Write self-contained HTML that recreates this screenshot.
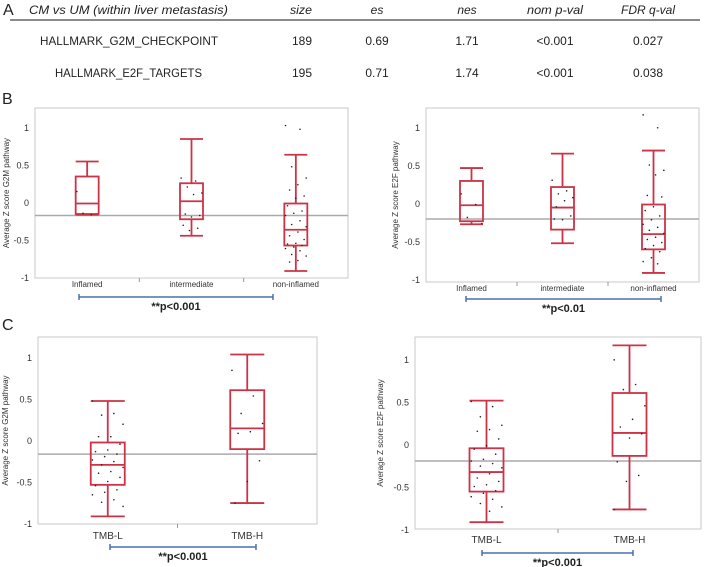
<!DOCTYPE html>
<html><head><meta charset="utf-8"><style>
body{margin:0;background:#fff;width:709px;height:567px;overflow:hidden;font-family:"Liberation Sans",sans-serif}
svg{position:absolute;left:0;top:0}
</style></head><body>
<svg id="s" width="709" height="567">
<g font-family="Liberation Sans, sans-serif" font-size="12" fill="#222">
<text x="3" y="15" font-size="16">A</text>
<g font-style="italic" text-anchor="middle">
<text x="29" y="14" text-anchor="start" textLength="199" lengthAdjust="spacingAndGlyphs">CM vs UM (within liver metastasis)</text>
<text x="301" y="14" textLength="22" lengthAdjust="spacingAndGlyphs">size</text><text x="377" y="14">es</text><text x="467" y="14">nes</text>
<text x="555" y="14" textLength="56" lengthAdjust="spacingAndGlyphs">nom p-val</text><text x="648" y="14" textLength="54" lengthAdjust="spacingAndGlyphs">FDR q-val</text></g>
<line x1="10" y1="20" x2="700" y2="20" stroke="#444" stroke-width="1.3"/>
<g text-anchor="middle">
<text x="40" y="45" text-anchor="start" textLength="178" lengthAdjust="spacingAndGlyphs">HALLMARK_G2M_CHECKPOINT</text><text x="302" y="45">189</text><text x="377" y="45">0.69</text><text x="467" y="45">1.71</text><text x="555" y="45">&lt;0.001</text><text x="648" y="45">0.027</text></g>
<g text-anchor="middle">
<text x="55" y="77" text-anchor="start" textLength="147" lengthAdjust="spacingAndGlyphs">HALLMARK_E2F_TARGETS</text><text x="302" y="77">195</text><text x="377" y="77">0.71</text><text x="467" y="77">1.74</text><text x="555" y="77">&lt;0.001</text><text x="648" y="77">0.038</text></g>
</g>
<text x="2" y="104" font-size="16" fill="#222">B</text>
<text x="2" y="330" font-size="16" fill="#222">C</text>
</svg>
<script>
// chart data
const catsB = ["Inflamed","intermediate","non-inflamed"];
const catsC = ["TMB-L","TMB-H"];
const ticks = [1,0.5,0,-0.5,-1];
const tickLabels = ["1","0.5","0","-0.5","-1"];
const boxB1 = [[-0.17,-0.16,-0.02,0.34,0.54],[-0.45,-0.23,0.01,0.25,0.84],[-0.92,-0.58,-0.37,-0.02,0.63]];
const boxB2 = [[-0.28,-0.24,-0.03,0.29,0.46],[-0.53,-0.35,-0.06,0.21,0.65],[-0.92,-0.61,-0.41,-0.02,0.69]];
const boxC1 = [[-0.92,-0.54,-0.30,-0.03,0.47],[-0.76,-0.11,0.14,0.60,1.03]];
const boxC2 = [[-0.92,-0.56,-0.33,-0.05,0.51],[-0.77,-0.14,0.13,0.60,1.16]];
const ptsB1 = [[0.14,-0.17,-0.15],[0.32,0.28,0.2,0.12,0.1,-0.16,-0.18,-0.2,-0.31,-0.35,-0.38],[1.02,0.97,0.47,0.32,0.23,0.16,0.08,0.05,-0.05,-0.12,-0.15,-0.18,-0.25,-0.3,-0.33,-0.4,-0.45,-0.5,-0.55,-0.56,-0.58,-0.6,-0.62,-0.65,-0.7,-0.72,-0.78,-0.8]];
const ptsB2 = [[0.12,-0.02,-0.19,-0.27],[0.3,0.16,0.12,0.07,0.03,-0.05,-0.17,-0.22,-0.21],[1.16,0.99,0.5,0.43,0.37,0.1,0.08,-0.05,-0.1,-0.17,-0.22,-0.28,-0.32,-0.36,-0.4,-0.45,-0.48,-0.52,-0.56,-0.6,-0.64,-0.72,-0.77,-0.8]];
const ptsC1 = [[0.47,0.32,0.3,0.19,0.04,0.04,-0.05,-0.12,-0.14,-0.17,-0.2,-0.24,-0.26,-0.3,-0.33,-0.38,-0.4,-0.45,-0.5,-0.55,-0.6,-0.63,-0.66,-0.72,-0.75,-0.8],[0.84,0.53,0.32,0.2,0.1,0.08,-0.25,-0.5,-0.76]];
const ptsC2 = [[0.5,0.44,0.32,0.22,0.17,0.15,0.06,-0.02,-0.06,-0.12,-0.18,-0.2,-0.23,-0.26,-0.28,-0.35,-0.4,-0.44,-0.48,-0.5,-0.55,-0.58,-0.62,-0.65,-0.7,-0.74,-0.79],[0.99,0.7,0.64,0.45,0.29,0.2,0.12,0.07,-0.21,-0.37,-0.44,-0.77]];
const refB1=-0.18, refB2=-0.21, refC1=-0.17, refC2=-0.2;

const NS="http://www.w3.org/2000/svg";
const svg=document.getElementById('s');
function mk(t,a,p){const e=document.createElementNS(NS,t);for(const k in a)e.setAttribute(k,a[k]);(p||svg).appendChild(e);return e;}
function chart(o){
  const g=mk('g',{});
  
  
  const y=v=>o.y0-v*(o.y0-o.y1);
  const n=o.cats.length, w=(o.r-o.l)/n;
  const x=i=>o.l+w*(i+0.5);
  const fr=mk('rect',{x:o.l,y:o.t,width:o.r-o.l,height:o.b-o.t,fill:'none',stroke:'#c8c8c8','stroke-width':1},g);
  
  
  ticks.forEach((v,i)=>{
    const t=mk('text',{x:o.l-6,y:y(v)+4,'text-anchor':'end','font-size':9,fill:'#333'},g);t.textContent=tickLabels[i];
    
    
  });
  for(let i=1;i<n;i++){const s=mk('line',{x1:o.l+w*i,x2:o.l+w*i,y1:o.b,y2:o.b+4,stroke:'#999'},g);
    
    }
  const yt=mk('text',{transform:`translate(${o.ytx},${(o.t+o.b)/2}) rotate(-90)`,'text-anchor':'middle','font-size':o.ytfs,fill:'#333'},g);
  yt.textContent=o.ytitle;
  
  
  const ref=mk('line',{x1:o.l,x2:o.r,y1:y(o.ref),y2:y(o.ref),stroke:'#aaa','stroke-width':1.5},g);
  
  
  o.cats.forEach((c,i)=>{
    const cx=x(i), bw=o.bw, d=o.box[i], col='#cc3346';
    const bg=mk('g',{stroke:col,'stroke-width':1.8,fill:'none'},g);
    
    
    mk('line',{x1:cx,x2:cx,y1:y(d[0]),y2:y(d[1])},bg);
    mk('line',{x1:cx,x2:cx,y1:y(d[3]),y2:y(d[4])},bg);
    mk('line',{x1:cx-bw/2,x2:cx+bw/2,y1:y(d[0]),y2:y(d[0])},bg);
    mk('line',{x1:cx-bw/2,x2:cx+bw/2,y1:y(d[4]),y2:y(d[4])},bg);
    mk('rect',{x:cx-bw/2,y:y(d[3]),width:bw,height:y(d[1])-y(d[3])},bg);
    mk('line',{x1:cx-bw/2,x2:cx+bw/2,y1:y(d[2]),y2:y(d[2])},bg);
    o.pts[i].forEach((v,j)=>{
      const jx=((j*7)%11-5)/5*bw*0.45;
      const p=mk('circle',{cx:cx+jx,cy:y(v),r:0.8,fill:'#222'},g);
      
      
    });
    const lb=mk('text',{x:cx,y:o.b+o.lbdy,'text-anchor':'middle','font-size':o.lbfs,fill:'#333'},g);
    lb.textContent=c;
    
    
  });
  const by=o.sigY;
  const sg=mk('g',{stroke:'#4a6fb5','stroke-width':1.5},g);
  
  
  mk('line',{x1:o.sx1,x2:o.sx2,y1:by,y2:by},sg);
  mk('line',{x1:o.sx1,x2:o.sx1,y1:by-3,y2:by+3},sg);
  mk('line',{x1:o.sx2,x2:o.sx2,y1:by-3,y2:by+3},sg);
  const pt=mk('text',{x:(o.sx1+o.sx2)/2,y:by+13,'text-anchor':'middle','font-size':11,'font-weight':'bold',fill:'#222'},g);
  pt.textContent=o.ptxt;
  
  
}
chart({name:'chart-b-g2m',cats:catsB,box:boxB1,pts:ptsB1,ref:refB1,l:35,r:348,t:108,b:278,y0:202,y1:127,bw:23,ytx:9,ytfs:8,ytitle:'Average Z score G2M pathway',lbdy:9,lbfs:8,sigY:297,sx1:79,sx2:273,ptxt:'**p<0.001'});
chart({name:'chart-b-e2f',cats:catsB,box:boxB2,pts:ptsB2,ref:refB2,l:426,r:699,t:108,b:282,y0:203,y1:127,bw:23,ytx:398,ytfs:8,ytitle:'Average Z score E2F pathway',lbdy:9,lbfs:8,sigY:299,sx1:466,sx2:661,ptxt:'**p<0.01'});
chart({name:'chart-c-g2m',cats:catsC,box:boxC1,pts:ptsC1,ref:refC1,l:38,r:317,t:337,b:524,y0:440,y1:357,bw:34,ytx:8,ytfs:8,ytitle:'Average Z score G2M pathway',lbdy:15,lbfs:10,sigY:547,sx1:110,sx2:256,ptxt:'**p<0.001'});
chart({name:'chart-c-e2f',cats:catsC,box:boxC2,pts:ptsC2,ref:refC2,l:415,r:701,t:337,b:529,y0:444,y1:359,bw:34,ytx:383,ytfs:8,ytitle:'Average Z score E2F pathway',lbdy:14,lbfs:10,sigY:553,sx1:482,sx2:633,ptxt:'**p<0.001'});
</script>
</body></html>
